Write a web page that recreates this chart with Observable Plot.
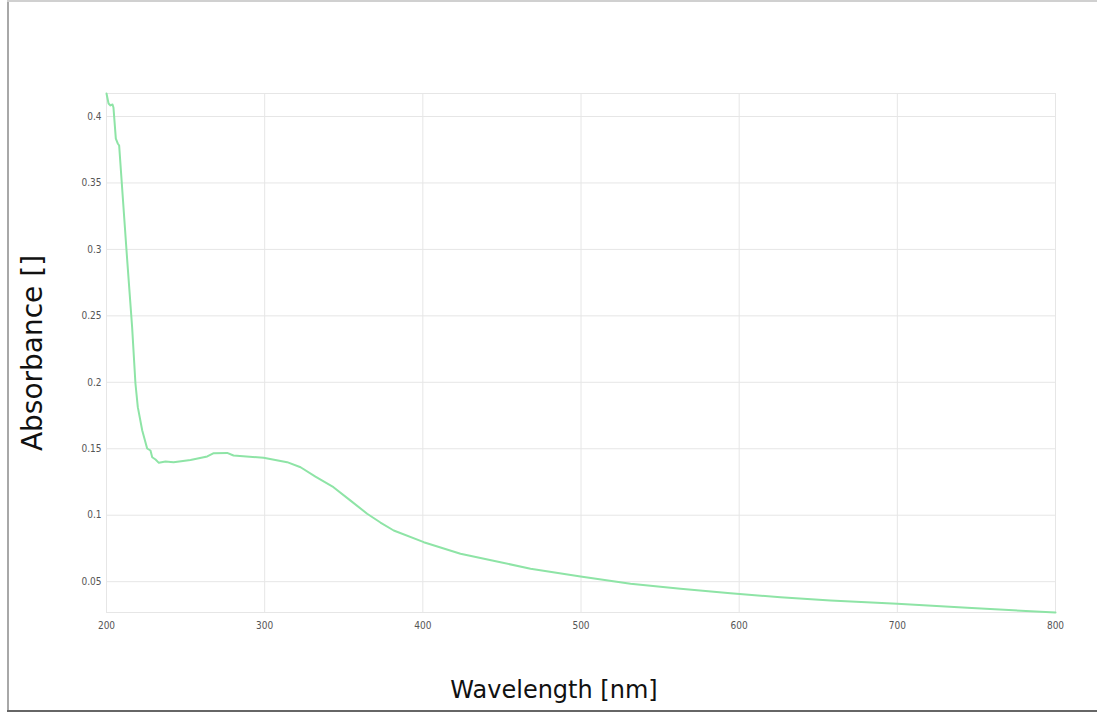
<!DOCTYPE html>
<html>
<head>
<meta charset="utf-8">
<script src="https://cdn.jsdelivr.net/npm/d3@7"></script>
<script src="https://cdn.jsdelivr.net/npm/@observablehq/plot@0.6"></script>
<style>
  html, body { margin: 0; padding: 0; background: #fff; }
  #wrap { position: relative; width: 1097px; height: 715px; overflow: hidden; }
  #wrap svg { position: absolute; left: 0; top: 0; }
  .border { position: absolute; pointer-events: none; }
</style>
</head>
<body>
<div id="wrap">
  <div class="border" style="left:7px;top:0;width:2px;height:712px;background:#a8a8a8"></div>
  <div class="border" style="left:7px;top:0;width:1090px;height:2px;background:#d0d0d0"></div>
  <div class="border" style="left:7px;top:710px;width:1090px;height:2px;background:#666"></div>
</div>
<script>
const wavelength = [200, 201.3, 202.5, 203.8, 204.4, 205.9, 207.1, 208.0, 213.1, 216.2, 218.3, 219.8, 222.6, 225.7, 227.8, 228.9, 231.0, 233.1, 237.3, 242.4, 253.1, 263.7, 267.8, 276.3, 280.3, 299.3, 314.2, 322.7, 332.1, 343.5, 354.3, 364.8, 373.2, 381.6, 400.6, 423.8, 449.1, 468.1, 499.7, 531.3, 562.9, 594.5, 626.1, 657.7, 699.9, 744.2, 800];
const absorbance = [0.4173, 0.4098, 0.4083, 0.409, 0.4068, 0.3834, 0.3797, 0.3782, 0.2917, 0.2415, 0.1991, 0.1813, 0.1637, 0.1502, 0.1487, 0.1436, 0.1419, 0.1394, 0.1404, 0.1399, 0.1415, 0.1442, 0.1467, 0.1469, 0.1449, 0.1432, 0.1399, 0.1361, 0.129, 0.1211, 0.111, 0.1011, 0.0945, 0.0885, 0.0797, 0.071, 0.0646, 0.0597, 0.0539, 0.0484, 0.0446, 0.0413, 0.0383, 0.0359, 0.0333, 0.0303, 0.0268];
const xTicks = [200, 300, 400, 500, 600, 700, 800];
const yTicks = [0.05, 0.1, 0.15, 0.2, 0.25, 0.3, 0.35, 0.4];
const xTitle = "Wavelength [nm]";
const yTitle = "Absorbance []";

const data = wavelength.map((w, i) => ({w, a: absorbance[i]}));
const tickFont = "'Liberation Sans Narrow', 'DejaVu Sans Condensed', sans-serif";

const chart = Plot.plot({
  width: 1097,
  height: 715,
  marginLeft: 106,
  marginRight: 42,
  marginTop: 93,
  marginBottom: 103,
  style: {fontFamily: "'DejaVu Sans', sans-serif", background: "transparent"},
  x: {domain: [200, 800]},
  y: {domain: [0.0268, 0.4173]},
  marks: [
    Plot.gridX(xTicks, {stroke: "#e6e6e6", strokeOpacity: 1, strokeWidth: 1}),
    Plot.gridY(yTicks, {stroke: "#e6e6e6", strokeOpacity: 1, strokeWidth: 1}),
    Plot.frame({stroke: "#e6e6e6", strokeWidth: 1}),
    Plot.axisX(xTicks, {tickSize: 0, tickPadding: 9, label: null, fontSize: 10, fill: "#555", fontFamily: tickFont, tickFormat: d => String(d)}),
    Plot.axisY(yTicks, {tickSize: 0, tickPadding: 5, label: null, fontSize: 10, fill: "#555", fontFamily: tickFont, tickFormat: d => String(d)}),
    Plot.line(data, {x: "w", y: "a", stroke: "#8ee4a6", strokeWidth: 2}),
    Plot.text([xTitle], {text: d => d, frameAnchor: "bottom", dx: -27, dy: 85, fontSize: 24, fill: "#111"}),
    Plot.text([yTitle], {text: d => d, frameAnchor: "left", textAnchor: "middle", dx: -73, rotate: -90, fontSize: 28, fill: "#111"})
  ]
});
document.getElementById("wrap").prepend(chart);
</script>
</body>
</html>
